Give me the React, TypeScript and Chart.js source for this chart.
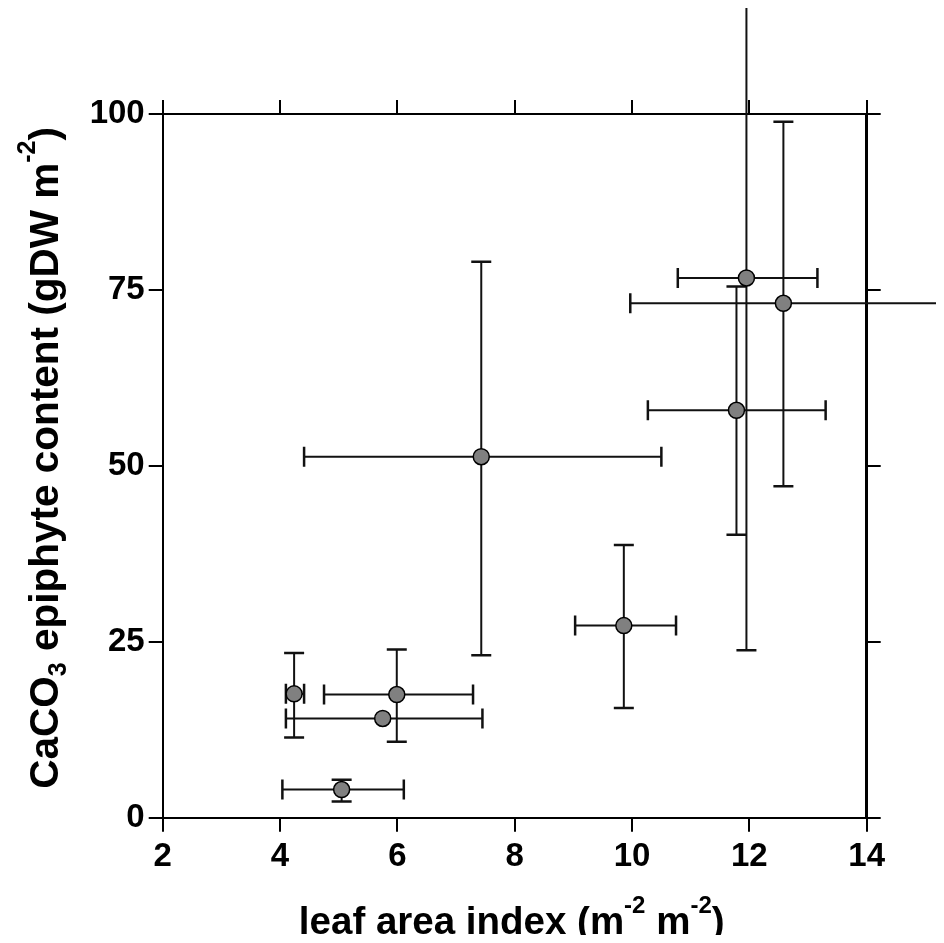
import { useEffect, useRef } from "react";
import { Chart, registerables } from "chart.js";

Chart.register(...registerables);

// ---- data ----
const leafAreaIndex = [4.24, 5.05, 5.75, 5.99, 7.43, 9.86, 11.78, 11.95, 12.58];
const caco3Content = [17.6, 4.0, 14.1, 17.5, 51.3, 27.3, 57.9, 76.7, 73.1];
const xErrLow = [4.1, 4.04, 4.1, 4.75, 4.41, 9.03, 10.27, 10.78, 9.97];
const xErrHigh = [4.41, 6.11, 7.45, 7.29, 10.5, 10.75, 13.3, 13.16, 15.25];
const yErrLow: (number | null)[] = [11.4, 2.3, null, 10.8, 23.1, 15.6, 40.2, 23.8, 47.1];
const yErrHigh: (number | null)[] = [23.4, 5.4, null, 23.9, 79.0, 38.75, 75.5, 120, 98.9];
const xTickValues = [2, 4, 6, 8, 10, 12, 14];
const yTickValues = [0, 25, 50, 75, 100];

const FONT = '"Liberation Sans", Arial, Helvetica, sans-serif';

type Part = { text: string; size: number; dy: number };

function measureParts(ctx: CanvasRenderingContext2D, parts: Part[]) {
  let w = 0;
  for (const p of parts) {
    ctx.font = `bold ${p.size}px ${FONT}`;
    w += ctx.measureText(p.text).width;
  }
  return w;
}

function drawParts(ctx: CanvasRenderingContext2D, parts: Part[], cx: number, baseline: number) {
  const total = measureParts(ctx, parts);
  let x = cx - total / 2;
  ctx.textAlign = "left";
  ctx.textBaseline = "alphabetic";
  ctx.fillStyle = "#000";
  for (const p of parts) {
    ctx.font = `bold ${p.size}px ${FONT}`;
    ctx.fillText(p.text, x, baseline + p.dy);
    x += ctx.measureText(p.text).width;
  }
}

const xTitleParts: Part[] = [
  { text: "leaf area index (m", size: 38.5, dy: 0 },
  { text: "-2", size: 24, dy: -21 },
  { text: " m", size: 38.5, dy: 0 },
  { text: "-2", size: 24, dy: -21 },
  { text: ")", size: 38.5, dy: 0 },
];
const yTitleParts: Part[] = [
  { text: "CaCO", size: 40.5, dy: 0 },
  { text: "3", size: 25, dy: 8 },
  { text: " epiphyte content (gDW m", size: 40.5, dy: 0 },
  { text: "-2", size: 25, dy: -23 },
  { text: ")", size: 40.5, dy: 0 },
];

const errorBarPlugin = {
  id: "errorBars",
  beforeDatasetsDraw(chart: any) {
    const ctx: CanvasRenderingContext2D = chart.ctx;
    const xs = chart.scales.x;
    const ys = chart.scales.y;
    const cap = 10;
    ctx.save();
    ctx.strokeStyle = "#111";
    ctx.lineCap = "butt";
    for (let i = 0; i < leafAreaIndex.length; i++) {
      const px = xs.getPixelForValue(leafAreaIndex[i]);
      const py = ys.getPixelForValue(caco3Content[i]);
      const x1 = xs.getPixelForValue(xErrLow[i]);
      const x2 = xs.getPixelForValue(xErrHigh[i]);
      ctx.lineWidth = 2;
      ctx.beginPath();
      ctx.moveTo(x1, py);
      ctx.lineTo(x2, py);
      ctx.stroke();
      ctx.lineWidth = 2.5;
      ctx.beginPath();
      ctx.moveTo(x1, py - cap);
      ctx.lineTo(x1, py + cap);
      ctx.moveTo(x2, py - cap);
      ctx.lineTo(x2, py + cap);
      ctx.stroke();
      const lo = yErrLow[i];
      const hi = yErrHigh[i];
      if (lo !== null && hi !== null) {
        const y1 = ys.getPixelForValue(lo);
        const y2 = ys.getPixelForValue(hi);
        ctx.lineWidth = 2;
        ctx.beginPath();
        ctx.moveTo(px, y1);
        ctx.lineTo(px, y2);
        ctx.stroke();
        ctx.lineWidth = 2.5;
        ctx.beginPath();
        ctx.moveTo(px - cap, y1);
        ctx.lineTo(px + cap, y1);
        ctx.moveTo(px - cap, y2);
        ctx.lineTo(px + cap, y2);
        ctx.stroke();
      }
    }
    ctx.restore();
  },
};

const titlePlugin = {
  id: "richTitles",
  afterDraw(chart: any) {
    const ctx: CanvasRenderingContext2D = chart.ctx;
    const area = chart.chartArea;
    ctx.save();
    drawParts(ctx, xTitleParts, (area.left + area.right) / 2 - 3, 926);
    ctx.translate(50, (area.top + area.bottom) / 2 - 8);
    ctx.rotate(-Math.PI / 2);
    drawParts(ctx, yTitleParts, 0, 0);
    ctx.restore();
  },
};

const CANVAS_W = 936;
const CANVAS_H = 935;
const AREA_LEFT = 154.7;
const AREA_RIGHT = 858.7;
const AREA_TOP = 106;
const AREA_BOTTOM = 809.7;

export default function App() {
  const ref = useRef<HTMLCanvasElement | null>(null);

  useEffect(() => {
    if (!ref.current) return;
    const gridCommon = {
      display: true,
      drawOnChartArea: false,
      drawTicks: true,
      tickLength: 14,
      color: "#000",
      lineWidth: 2,
    };
    const tickFont = { family: FONT, size: 33, weight: "bold" as const };
    const chart = new Chart(ref.current, {
      type: "scatter",
      data: {
        datasets: [
          {
            data: leafAreaIndex.map((x, i) => ({ x, y: caco3Content[i] })),
            pointRadius: 8,
            pointHoverRadius: 8,
            backgroundColor: "#808080",
            borderColor: "#000",
            borderWidth: 1.5,
            clip: false as any,
          },
        ],
      },
      options: {
        animation: false,
        responsive: false,
        devicePixelRatio: 1,
        layout: { padding: 0 },
        plugins: { legend: { display: false }, tooltip: { enabled: false } },
        scales: {
          x: {
            type: "linear",
            position: "bottom",
            min: 2,
            max: 14,
            afterBuildTicks: (s: any) => {
              s.ticks = xTickValues.map((v) => ({ value: v }));
            },
            ticks: { color: "#000", font: tickFont, padding: 5, maxRotation: 0 },
            grid: gridCommon,
            border: { display: true, color: "#000", width: 2 },
            afterFit: (s: any) => {
              s.height = CANVAS_H - AREA_BOTTOM;
            },
          },
          x2: {
            type: "linear",
            position: "top",
            min: 2,
            max: 14,
            afterBuildTicks: (s: any) => {
              s.ticks = xTickValues.map((v) => ({ value: v }));
            },
            ticks: { display: false },
            grid: gridCommon,
            border: { display: true, color: "#000", width: 2 },
            afterFit: (s: any) => {
              s.height = AREA_TOP;
            },
          },
          y: {
            type: "linear",
            position: "left",
            min: 0,
            max: 100,
            afterBuildTicks: (s: any) => {
              s.ticks = yTickValues.map((v) => ({ value: v }));
            },
            ticks: { color: "#000", font: tickFont, padding: 4 },
            grid: gridCommon,
            border: { display: true, color: "#000", width: 2 },
            afterFit: (s: any) => {
              s.width = AREA_LEFT;
            },
          },
          y2: {
            type: "linear",
            position: "right",
            min: 0,
            max: 100,
            afterBuildTicks: (s: any) => {
              s.ticks = yTickValues.map((v) => ({ value: v }));
            },
            ticks: { display: false },
            grid: gridCommon,
            border: { display: true, color: "#000", width: 3 },
            afterFit: (s: any) => {
              s.width = CANVAS_W - AREA_RIGHT;
            },
          },
        },
      },
      plugins: [errorBarPlugin, titlePlugin],
    });
    return () => chart.destroy();
  }, []);

  return (
    <div style={{ width: 928, height: 927 }}>
      <canvas
        ref={ref}
        width={CANVAS_W}
        height={CANVAS_H}
        style={{ display: "block", width: CANVAS_W, height: CANVAS_H }}
      />
    </div>
  );
}
